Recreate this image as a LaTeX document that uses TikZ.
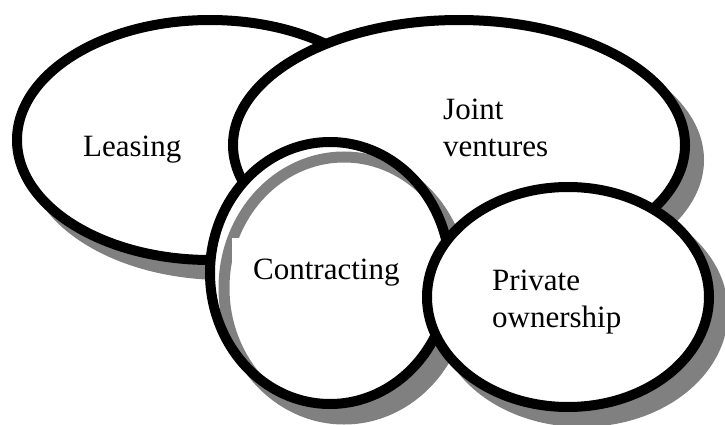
\documentclass[tikz,border=0pt]{standalone}
\usepackage{fontspec}
\setmainfont{Liberation Serif}
\definecolor{shadowgray}{HTML}{808080}
\begin{document}
\begin{tikzpicture}[x=1pt,y=-1pt,
  shadowblob/.style={fill=shadowgray,draw=shadowgray,line width=10pt},
  blackring/.style={draw=black,line width=10pt,fill=white},
  innershadow/.style={draw=shadowgray,line width=11pt},
  txt/.style={font=\fontsize{31}{37}\selectfont,anchor=base west,inner sep=0pt,align=left}]
\useasboundingbox (0,0) rectangle (725,425);
\clip (0,0) rectangle (725,425);
% Leasing
\path[shadowblob] (224,155) ellipse[x radius=193pt,y radius=120pt];
\path[blackring] (210,140) ellipse[x radius=193pt,y radius=120pt];
% Joint ventures
\path[shadowblob] (473,160) ellipse[x radius=226pt,y radius=125pt];
\path[blackring] (459,145) ellipse[x radius=226pt,y radius=125pt];
% Contracting
\path[shadowblob] (344,288) ellipse[x radius=120pt,y radius=131pt];
\path[fill=white] (330,273) ellipse[x radius=120pt,y radius=131pt];
\path[innershadow] (344,288) ellipse[x radius=120pt,y radius=131pt];
\path[fill=white] (232,238) rectangle (410,292);
\path[draw=black,line width=10pt] (330,273) ellipse[x radius=120pt,y radius=131pt];
% Private ownership
\path[shadowblob] (582,312) ellipse[x radius=141pt,y radius=110pt];
\path[blackring] (568,297) ellipse[x radius=141pt,y radius=110pt];
% texts
\node[txt] (leasing) at (83,157) {Leasing};
\node[txt] (joint) at (443,157) {Joint\\ventures};
\node[txt] (contracting) at (253,279) {Contracting};
\node[txt] (private) at (492,327) {Private\\ownership};
\end{tikzpicture}
\end{document}
